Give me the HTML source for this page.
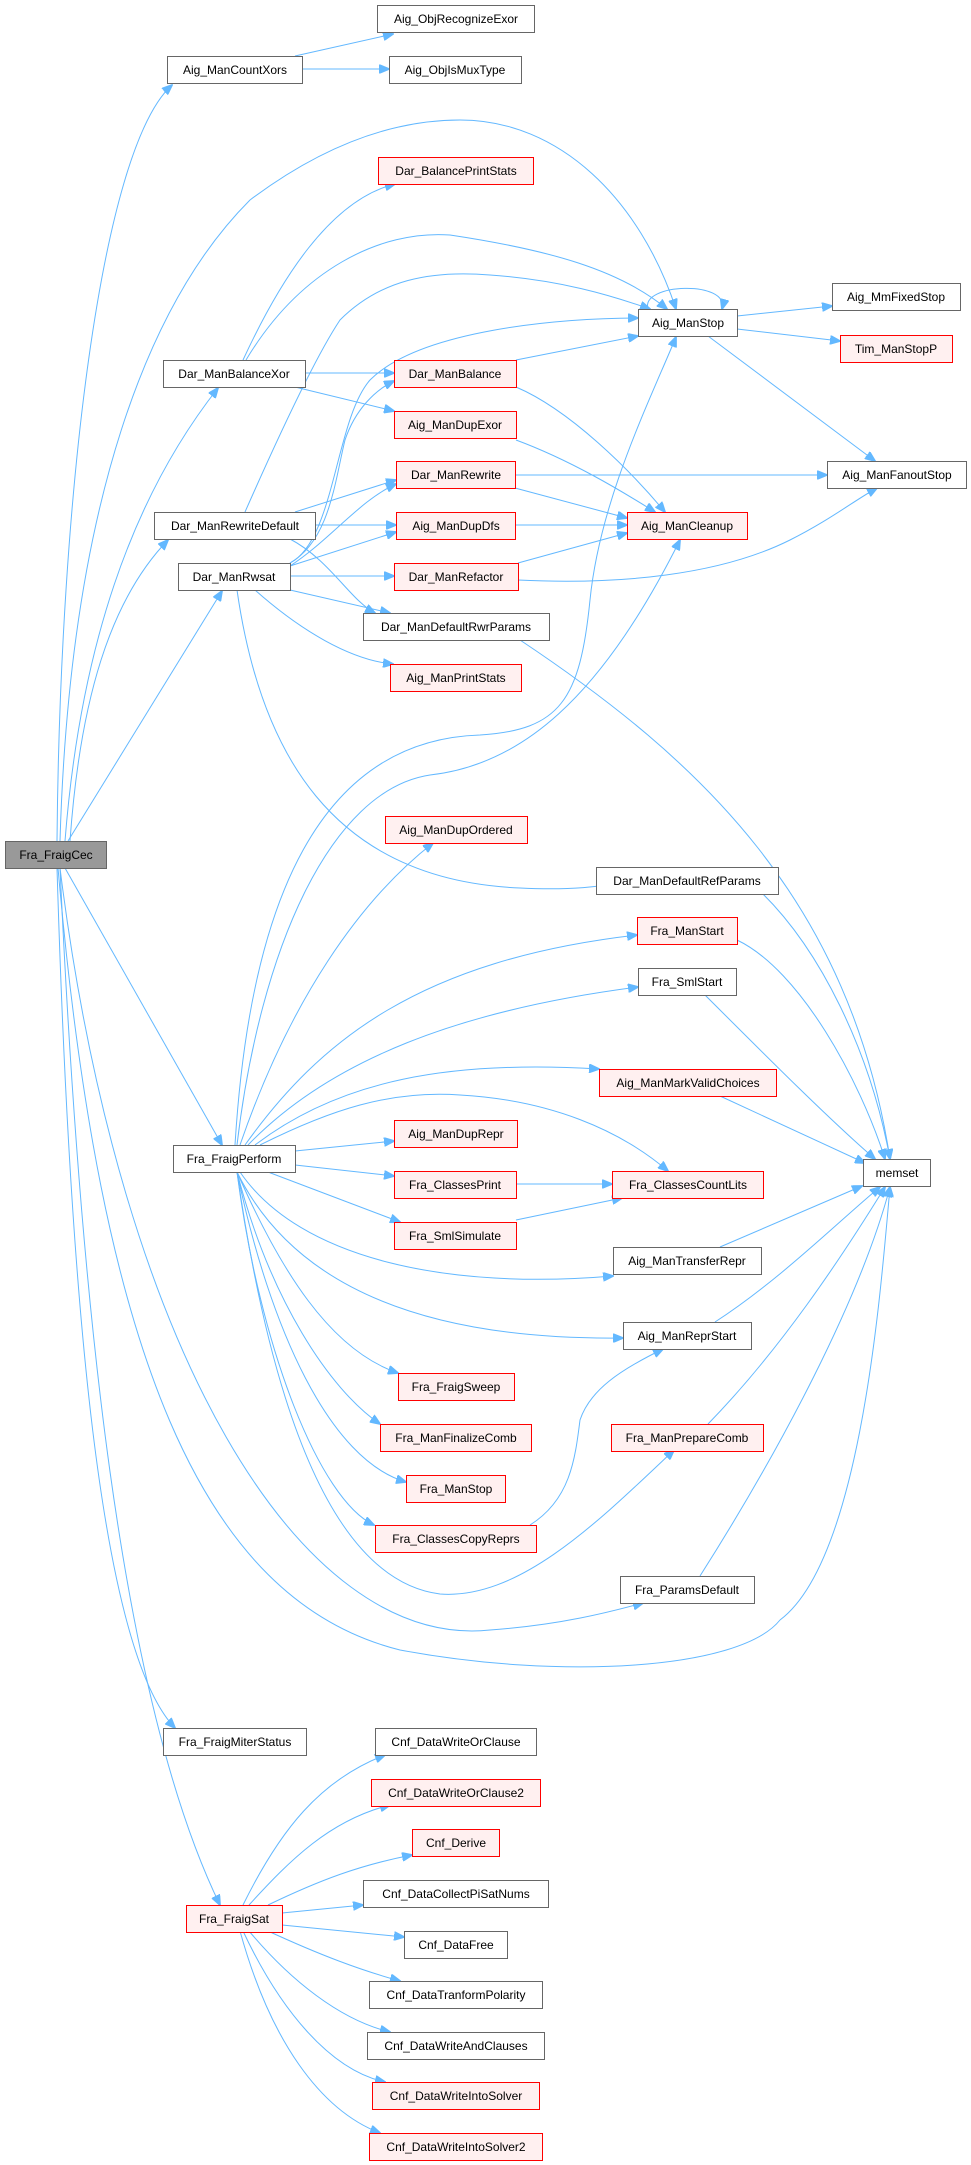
<!DOCTYPE html>
<html><head><meta charset="utf-8"><style>
html,body{margin:0;padding:0;background:#fff;}
svg{display:block;}
text{font-family:"Liberation Sans",sans-serif;font-size:12px;fill:#000;text-anchor:middle;dominant-baseline:central;}
.n rect{fill:#fff;stroke:#666;stroke-width:1;}
.r rect{fill:#fff0f0;stroke:#ff0000;stroke-width:1;}
path{fill:none;stroke:#63b8ff;stroke-width:1;}
</style></head><body>
<svg width="971" height="2165" viewBox="0 0 971 2165" xmlns="http://www.w3.org/2000/svg">
<defs><marker id="a" markerWidth="11" markerHeight="9" refX="10" refY="4.5" orient="auto" markerUnits="userSpaceOnUse"><path d="M0,0 L11,4.5 L0,9 Z" style="fill:#63b8ff;stroke:#63b8ff"/></marker></defs>
<g marker-end="url(#a)">
<!-- Fra_FraigCec -->
<path d="M57,841 C60,500 100,150 172,85"/>
<path d="M60,841 C70,500 150,300 250,200 C330,140 400,120 460,120 C560,120 640,200 676,309"/>
<path d="M65,841 C80,650 130,500 218,388"/>
<path d="M70,841 C80,700 110,600 168,540"/>
<path d="M68,841 L222,591"/>
<path d="M65,868 L222,1145"/>
<path d="M60,868 C120,1350 300,1650 490,1630 C560,1625 610,1612 643,1603"/>
<path d="M58,868 C100,1350 200,1600 400,1650 C560,1680 740,1670 780,1620 C860,1560 880,1300 890,1187"/>
<path d="M57,868 C70,1300 100,1650 175,1728"/>
<path d="M60,868 C80,1300 120,1700 220,1905"/>
<!-- CountXors -->
<path d="M295,56 L393,34"/>
<path d="M302,69 L389,69"/>
<!-- BalanceXor -->
<path d="M243,360 C280,280 330,200 395,184"/>
<path d="M246,360 C300,270 380,230 450,235 C550,250 620,270 667,309"/>
<path d="M305,373 L394,373"/>
<path d="M295,387 L394,411"/>
<!-- RewriteDefault -->
<path d="M245,512 C290,410 320,350 340,320 C380,280 430,270 490,275 C560,280 610,295 650,309"/>
<path d="M295,512 L396,480"/>
<path d="M315,525 L396,525"/>
<path d="M290,539 C330,560 350,600 375,613"/>
<!-- Rwsat -->
<path d="M290,563 C335,540 335,420 370,380 C420,330 560,318 638,318"/>
<path d="M290,563 C330,540 335,480 345,440 C355,410 375,390 394,381"/>
<path d="M290,566 C330,540 360,500 396,484"/>
<path d="M290,566 L396,532"/>
<path d="M290,576 L394,576"/>
<path d="M290,590 L390,613"/>
<path d="M255,590 C300,630 350,660 393,664"/>
<path d="M237,590 C260,750 330,880 520,888 C560,890 590,888 612,884"/>
<!-- ManStop -->
<path d="M648,309 C640,283 730,280 722,309"/>
<path d="M737,316 L832,306"/>
<path d="M737,329 L840,341"/>
<path d="M708,336 L875,461"/>
<path d="M516,360 L638,336"/>
<path d="M516,387 C570,410 630,470 665,512"/>
<path d="M516,440 C570,460 620,490 655,512"/>
<path d="M515,475 L827,475"/>
<path d="M515,488 L627,518"/>
<path d="M515,525 L627,525"/>
<path d="M518,563 L627,533"/>
<path d="M518,580 C620,585 720,575 790,540 C830,520 855,500 877,488"/>
<path d="M520,640 C700,760 850,900 890,1159"/>
<!-- FraigPerform -->
<path d="M235,1145 C250,900 320,740 480,735 C560,730 580,700 590,600 C600,500 650,400 676,337"/>
<path d="M237,1145 C260,950 330,790 430,775 C520,765 600,700 680,540"/>
<path d="M240,1145 C290,1000 360,900 433,843"/>
<path d="M245,1145 C320,1040 420,960 637,935"/>
<path d="M248,1145 C330,1060 460,1010 638,987"/>
<path d="M255,1145 C340,1080 450,1060 599,1069"/>
<path d="M260,1145 C330,1110 390,1090 460,1095 C550,1100 620,1130 668,1171"/>
<path d="M295,1151 L394,1141"/>
<path d="M295,1165 L394,1176"/>
<path d="M268,1172 L400,1222"/>
<path d="M240,1172 C300,1260 450,1290 613,1276"/>
<path d="M237,1172 C300,1300 450,1340 623,1338"/>
<path d="M237,1172 C280,1270 330,1350 398,1373"/>
<path d="M237,1172 C270,1300 330,1390 380,1424"/>
<path d="M237,1172 C270,1330 330,1460 406,1482"/>
<path d="M237,1172 C260,1350 320,1500 374,1525"/>
<path d="M237,1172 C270,1400 330,1580 440,1594 C520,1600 600,1520 674,1450"/>
<!-- memset in -->
<path d="M762,893 C820,950 870,1050 890,1159"/>
<path d="M737,940 C800,970 860,1080 885,1159"/>
<path d="M705,995 C770,1060 830,1120 875,1159"/>
<path d="M720,1096 L865,1163"/>
<path d="M720,1247 L862,1186"/>
<path d="M715,1322 C780,1280 840,1220 880,1187"/>
<path d="M708,1424 C780,1350 840,1260 885,1187"/>
<path d="M700,1576 C780,1450 860,1300 890,1187"/>
<path d="M516,1184 L612,1184"/>
<path d="M516,1220 L622,1198"/>
<path d="M530,1525 C570,1500 575,1460 580,1420 C590,1390 620,1370 663,1349"/>
<!-- FraigSat -->
<path d="M243,1905 C280,1830 320,1780 385,1755"/>
<path d="M249,1905 C290,1860 330,1820 390,1805"/>
<path d="M268,1905 C320,1880 360,1865 412,1855"/>
<path d="M282,1913 L363,1905"/>
<path d="M282,1925 L404,1937"/>
<path d="M268,1931 C320,1955 360,1970 400,1981"/>
<path d="M249,1931 C290,1980 340,2020 390,2032"/>
<path d="M243,1931 C280,2010 330,2070 385,2082"/>
<path d="M240,1931 C270,2040 320,2110 380,2133"/>
</g>
<!-- nodes -->
<g class="n"><rect x="377.5" y="5.5" width="157" height="27"/><text x="456" y="19">Aig_ObjRecognizeExor</text></g>
<g class="n"><rect x="167.5" y="56.5" width="135" height="27"/><text x="235" y="70">Aig_ManCountXors</text></g>
<g class="n"><rect x="389.5" y="56.5" width="132" height="27"/><text x="455" y="70">Aig_ObjIsMuxType</text></g>
<g class="r"><rect x="378.5" y="157.5" width="155" height="27"/><text x="456" y="171">Dar_BalancePrintStats</text></g>
<g class="n"><rect x="638.5" y="309.5" width="99" height="27"/><text x="688" y="323">Aig_ManStop</text></g>
<g class="n"><rect x="832.5" y="283.5" width="128" height="27"/><text x="896" y="297">Aig_MmFixedStop</text></g>
<g class="r"><rect x="840.5" y="335.5" width="112" height="27"/><text x="896" y="349">Tim_ManStopP</text></g>
<g class="n"><rect x="163.5" y="360.5" width="142" height="27"/><text x="234" y="374">Dar_ManBalanceXor</text></g>
<g class="r"><rect x="394.5" y="360.5" width="122" height="27"/><text x="455" y="374">Dar_ManBalance</text></g>
<g class="r"><rect x="394.5" y="411.5" width="122" height="27"/><text x="455" y="425">Aig_ManDupExor</text></g>
<g class="r"><rect x="396.5" y="461.5" width="119" height="27"/><text x="456" y="475">Dar_ManRewrite</text></g>
<g class="n"><rect x="827.5" y="461.5" width="139" height="27"/><text x="897" y="475">Aig_ManFanoutStop</text></g>
<g class="n"><rect x="154.5" y="512.5" width="161" height="27"/><text x="235" y="526">Dar_ManRewriteDefault</text></g>
<g class="r"><rect x="396.5" y="512.5" width="119" height="27"/><text x="456" y="526">Aig_ManDupDfs</text></g>
<g class="r"><rect x="627.5" y="512.5" width="120" height="27"/><text x="687" y="526">Aig_ManCleanup</text></g>
<g class="n"><rect x="178.5" y="563.5" width="112" height="27"/><text x="234" y="577">Dar_ManRwsat</text></g>
<g class="r"><rect x="394.5" y="563.5" width="124" height="27"/><text x="456" y="577">Dar_ManRefactor</text></g>
<g class="n"><rect x="363.5" y="613.5" width="186" height="27"/><text x="456" y="627">Dar_ManDefaultRwrParams</text></g>
<g class="r"><rect x="390.5" y="664.5" width="131" height="27"/><text x="456" y="678">Aig_ManPrintStats</text></g>
<g><rect x="5.5" y="841.5" width="101" height="27" style="fill:#999;stroke:#666"/><text x="56" y="855">Fra_FraigCec</text></g>
<g class="r"><rect x="385.5" y="816.5" width="142" height="27"/><text x="456" y="830">Aig_ManDupOrdered</text></g>
<g class="n"><rect x="596.5" y="867.5" width="182" height="27"/><text x="687" y="881">Dar_ManDefaultRefParams</text></g>
<g class="r"><rect x="637.5" y="917.5" width="100" height="27"/><text x="687" y="931">Fra_ManStart</text></g>
<g class="n"><rect x="638.5" y="968.5" width="98" height="27"/><text x="687" y="982">Fra_SmlStart</text></g>
<g class="r"><rect x="599.5" y="1069.5" width="177" height="27"/><text x="688" y="1083">Aig_ManMarkValidChoices</text></g>
<g class="r"><rect x="394.5" y="1120.5" width="123" height="27"/><text x="456" y="1134">Aig_ManDupRepr</text></g>
<g class="n"><rect x="173.5" y="1145.5" width="122" height="27"/><text x="234" y="1159">Fra_FraigPerform</text></g>
<g class="n"><rect x="863.5" y="1159.5" width="67" height="27"/><text x="897" y="1173">memset</text></g>
<g class="r"><rect x="394.5" y="1171.5" width="122" height="27"/><text x="455" y="1185">Fra_ClassesPrint</text></g>
<g class="r"><rect x="612.5" y="1171.5" width="151" height="27"/><text x="688" y="1185">Fra_ClassesCountLits</text></g>
<g class="r"><rect x="394.5" y="1222.5" width="122" height="27"/><text x="455" y="1236">Fra_SmlSimulate</text></g>
<g class="n"><rect x="613.5" y="1247.5" width="148" height="27"/><text x="687" y="1261">Aig_ManTransferRepr</text></g>
<g class="n"><rect x="623.5" y="1322.5" width="128" height="27"/><text x="687" y="1336">Aig_ManReprStart</text></g>
<g class="r"><rect x="398.5" y="1373.5" width="116" height="27"/><text x="456" y="1387">Fra_FraigSweep</text></g>
<g class="r"><rect x="380.5" y="1424.5" width="151" height="27"/><text x="456" y="1438">Fra_ManFinalizeComb</text></g>
<g class="r"><rect x="611.5" y="1424.5" width="152" height="27"/><text x="687" y="1438">Fra_ManPrepareComb</text></g>
<g class="r"><rect x="406.5" y="1475.5" width="99" height="27"/><text x="456" y="1489">Fra_ManStop</text></g>
<g class="r"><rect x="375.5" y="1525.5" width="161" height="27"/><text x="456" y="1539">Fra_ClassesCopyReprs</text></g>
<g class="n"><rect x="620.5" y="1576.5" width="134" height="27"/><text x="687" y="1590">Fra_ParamsDefault</text></g>
<g class="n"><rect x="163.5" y="1728.5" width="143" height="27"/><text x="235" y="1742">Fra_FraigMiterStatus</text></g>
<g class="n"><rect x="375.5" y="1728.5" width="161" height="27"/><text x="456" y="1742">Cnf_DataWriteOrClause</text></g>
<g class="r"><rect x="371.5" y="1779.5" width="169" height="27"/><text x="456" y="1793">Cnf_DataWriteOrClause2</text></g>
<g class="r"><rect x="412.5" y="1829.5" width="87" height="27"/><text x="456" y="1843">Cnf_Derive</text></g>
<g class="n"><rect x="363.5" y="1880.5" width="185" height="27"/><text x="456" y="1894">Cnf_DataCollectPiSatNums</text></g>
<g class="r"><rect x="186.5" y="1905.5" width="96" height="27"/><text x="234" y="1919">Fra_FraigSat</text></g>
<g class="n"><rect x="404.5" y="1931.5" width="103" height="27"/><text x="456" y="1945">Cnf_DataFree</text></g>
<g class="n"><rect x="369.5" y="1981.5" width="173" height="27"/><text x="456" y="1995">Cnf_DataTranformPolarity</text></g>
<g class="n"><rect x="367.5" y="2032.5" width="177" height="27"/><text x="456" y="2046">Cnf_DataWriteAndClauses</text></g>
<g class="r"><rect x="372.5" y="2082.5" width="167" height="27"/><text x="456" y="2096">Cnf_DataWriteIntoSolver</text></g>
<g class="r"><rect x="369.5" y="2133.5" width="173" height="27"/><text x="456" y="2147">Cnf_DataWriteIntoSolver2</text></g>
</svg>
</body></html>
